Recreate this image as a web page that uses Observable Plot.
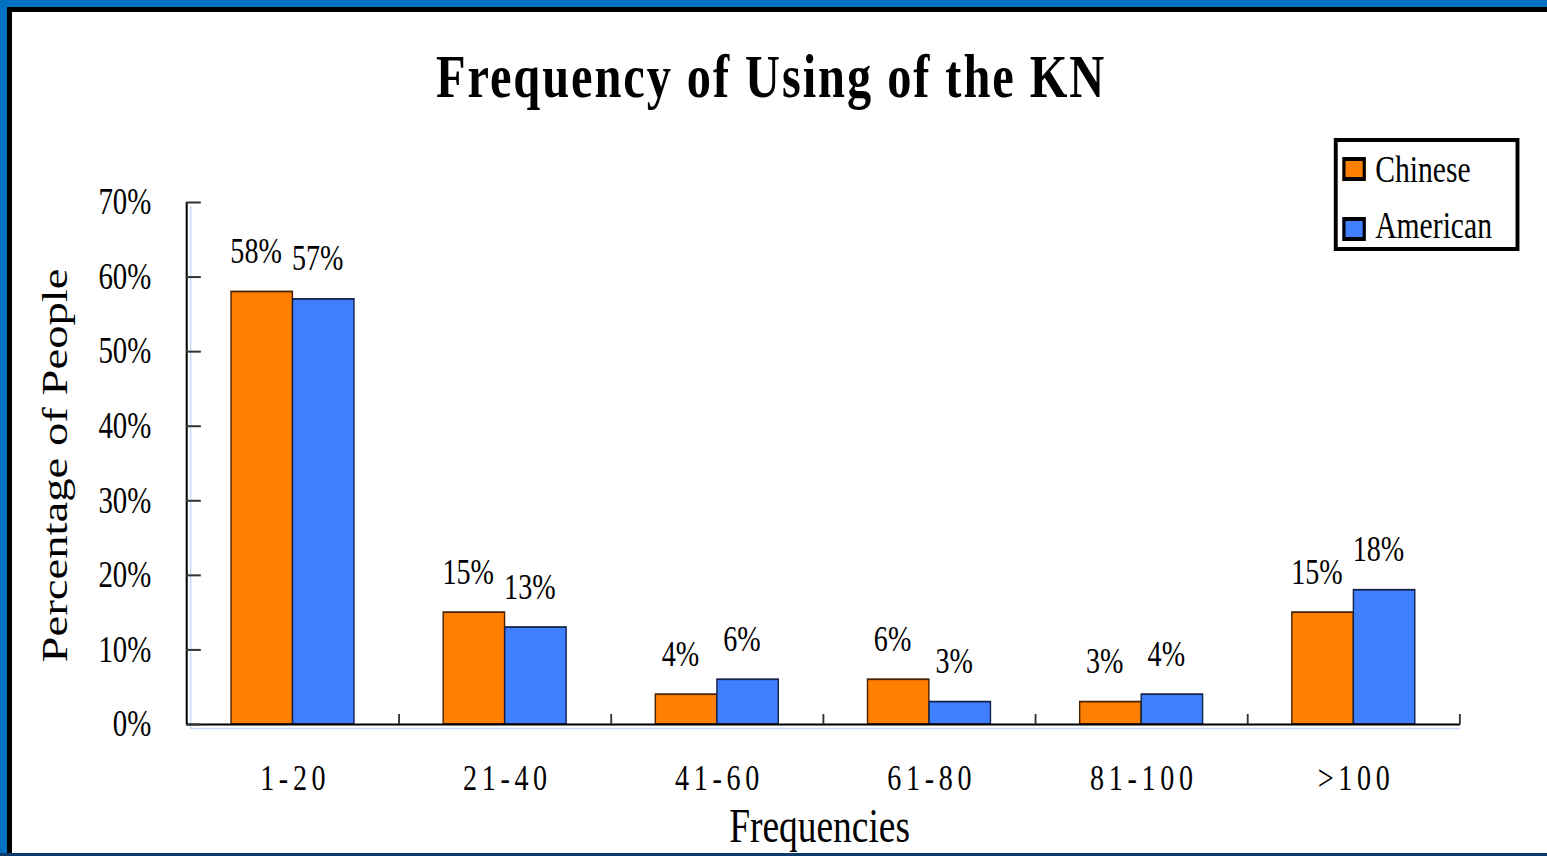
<!DOCTYPE html>
<html>
<head>
<meta charset="utf-8">
<script src="https://cdn.jsdelivr.net/npm/d3@7"></script>
<script src="https://cdn.jsdelivr.net/npm/@observablehq/plot@0.6"></script>
<style>
  html, body { margin: 0; padding: 0; }
  body {
    width: 1547px; height: 856px; overflow: hidden; position: relative;
    background: #0071c1;
    font-family: "Liberation Serif", "Times New Roman", serif;
  }
  #panel {
    position: absolute; left: 7px; top: 7px; right: 0; bottom: 3px;
    background: #fff; border-left: 5px solid #000; border-top: 5px solid #000;
  }
  #strip { position: absolute; left: 0; right: 0; bottom: 0; height: 3px; background: #0c3c6c; z-index: 5; }
  /* the whole slide is drawn wide and then narrowed horizontally */
  #squash {
    position: absolute; left: 0; top: 0; width: 1983px; height: 856px;
    transform: scaleX(0.78); transform-origin: 0 0;
  }
  #chart { position: absolute; left: 0; top: 0; }
  #title {
    position: absolute; left: 0; top: 45px; width: 1977px; text-align: center;
    font-weight: bold; font-size: 62px; line-height: 62px; letter-spacing: 2.5px; color: #000;
    white-space: nowrap;
  }
  #legend {
    position: absolute; left: 1710px; top: 138px; width: 238px; height: 113px;
    box-sizing: border-box; border-style: solid; border-color: #000;
    border-width: 4px 5px; background: #fff;
  }
  .sw {
    position: absolute; width: 30px; height: 24px; box-sizing: border-box;
    border-style: solid; border-color: #000; border-width: 4px 4.5px;
  }
  .lab {
    position: absolute; font-size: 38px; line-height: 38px; white-space: nowrap; color: #000;
  }
</style>
</head>
<body>
<div id="panel"></div>
<div id="squash">
  <div id="chart"></div>
  <div id="title">Frequency of Using of the KN</div>
  <div id="legend"></div>
</div>
<div id="strip"></div>
<script>
// Categories and series values
const categories = ["1-20", "21-40", "41-60", "61-80", "81-100", ">100"];
const seriesNames = ["Chinese", "American"];
const chinese = [58, 15, 4, 6, 3, 15];
const american = [57, 13, 6, 3, 4, 18];
const yTicks = [0, 10, 20, 30, 40, 50, 60, 70];

const fills = ["#ff7f00", "#4080ff"];
const outlines = {Chinese: "#4a2200", American: "#15224a"};

// layout (drawn in the widened coordinate space)
const W = 1983, H = 856;
const mL = 238.5, mR = 111, mT = 202, mB = 132;
const plotW = W - mL - mR;
const bw = plotW / categories.length;
const barW = bw * 0.29;
const outer = (bw - 2 * barW) / 2;

const rows = categories.flatMap((c, i) => [
  {category: c, series: "Chinese", value: chinese[i]},
  {category: c, series: "American", value: american[i]}
]);
const ch = rows.filter(d => d.series === "Chinese");
const am = rows.filter(d => d.series === "American");

const plot = Plot.plot({
  width: W,
  height: H,
  marginLeft: mL, marginRight: mR, marginTop: mT, marginBottom: mB,
  style: {background: "transparent", fontFamily: "Liberation Serif, Times New Roman, serif", fontSize: "37px", color: "#000", overflow: "visible"},
  x: {domain: categories, padding: 0, tickSize: 0, tickPadding: 40, label: null},
  y: {domain: [0, 70], ticks: yTicks, tickFormat: d => d + "%", tickSize: 0, tickPadding: 45, label: null},
  color: {domain: seriesNames, range: fills},
  marks: [
    // faint offset shadow of the axes
    Plot.ruleY([0], {stroke: "#c8d7fb", strokeWidth: 1.6, dy: 4, insetLeft: 5}),
    Plot.ruleX([categories[0]], {dx: -bw / 2 + 5, dy: 4, stroke: "#c8d7fb", strokeWidth: 2}),
    // bars
    Plot.barY(ch, {x: "category", y: "value", fill: "series", stroke: outlines.Chinese, strokeWidth: 1.8,
      insetLeft: outer, insetRight: outer + barW}),
    Plot.barY(am, {x: "category", y: "value", fill: "series", stroke: outlines.American, strokeWidth: 1.8,
      insetLeft: outer + barW, insetRight: outer}),
    // axes lines and ticks
    Plot.ruleY([0], {stroke: "#000", strokeWidth: 2}),
    Plot.ruleX([categories[0]], {dx: -bw / 2, stroke: "#000", strokeWidth: 2.6}),
    Plot.ruleY(yTicks, {y: d => d, insetRight: plotW - 19, stroke: "#333", strokeWidth: 2}),
    Plot.ruleX(categories, {x: d => d, y1: 0, y2: 0, dx: bw / 2, insetTop: -10, stroke: "#333", strokeWidth: 2.4}),
    // value labels
    Plot.text(ch, {x: "category", y: "value", text: d => d.value + "%", dx: -barW / 2 - 7.7, dy: -29,
      lineAnchor: "bottom", fontSize: 36}),
    Plot.text(am, {x: "category", y: "value", text: d => d.value + "%", dx: barW / 2 - 7.7, dy: -29,
      lineAnchor: "bottom", fontSize: 36}),
    // axis titles
    Plot.text(["Percentage of People"], {text: d => d, frameAnchor: "left", textAnchor: "middle", rotate: -90,
      dx: 85 - mL, dy: 2, lineAnchor: "bottom", fontSize: 46.7}),
    Plot.text(["Frequencies"], {text: d => d, frameAnchor: "bottom", textAnchor: "middle", lineAnchor: "bottom",
      dy: 117, dx: -5, fontSize: 48})
  ]
});
plot.style.maxWidth = "none";
document.getElementById("chart").appendChild(plot);

// wider spacing for the category tick labels
d3.select(plot).selectAll("text").each(function() {
  if (categories.includes(this.textContent)) {
    d3.select(this).style("letter-spacing", "6px").style("font-size", "36px").attr("dx", "3");
  }
});

// legend
const legend = document.getElementById("legend");
const entries = [
  {name: seriesNames[0], color: fills[0], swTop: 15, labTop: 8},
  {name: seriesNames[1], color: fills[1], swTop: 75, labTop: 64}
];
for (const e of entries) {
  const sw = document.createElement("div");
  sw.className = "sw";
  sw.style.left = "6px";
  sw.style.top = e.swTop + "px";
  sw.style.background = e.color;
  legend.appendChild(sw);
  const lab = document.createElement("div");
  lab.className = "lab";
  lab.style.left = "48px";
  lab.style.top = e.labTop + "px";
  lab.textContent = e.name;
  legend.appendChild(lab);
}
</script>
</body>
</html>
